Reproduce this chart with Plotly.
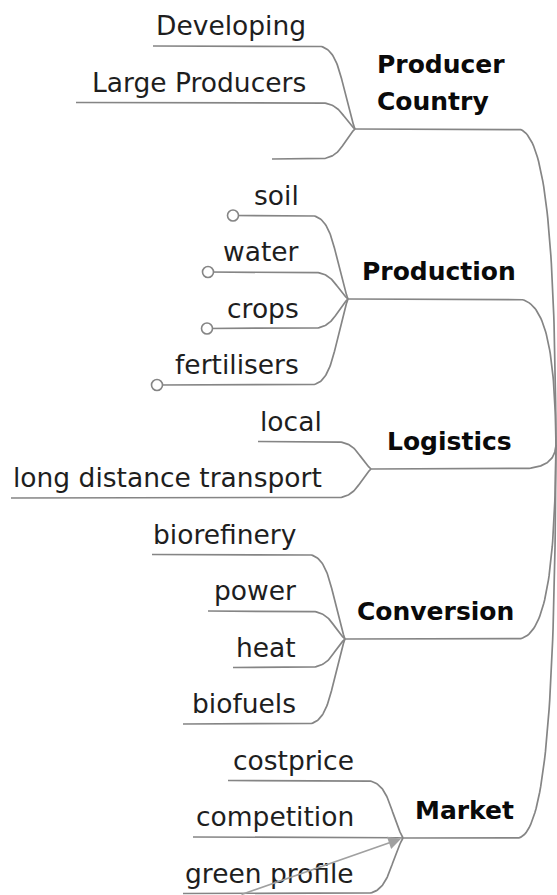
import numpy as np
import plotly.graph_objects as go

# ---- data (mind map content) ----
branch_labels = [["Producer", "Country"], ["Production"], ["Logistics"], ["Conversion"], ["Market"]]
child_labels = [
    ["Developing", "Large Producers", ""],
    ["soil", "water", "crops", "fertilisers"],
    ["local", "long distance transport"],
    ["biorefinery", "power", "heat", "biofuels"],
    ["costprice", "competition", "green profile"],
]
child_has_circle = [False, True, False, False, False]

# ---- layout (pixel-like coordinates) ----
W, H = 557, 895
hub_x = [355, 348, 371, 345, 403]
hub_y = [129, 299, 469, 639, 838]
hub_text_x = [375, 360, 385, 355, 413]
child_start_x = [
    [153, 76, 272],
    [233, 208, 207, 157],
    [258, 11],
    [152, 208, 233, 183],
    [228, 193, 183],
]
row0, row_step = 46, 56.5
root = (556, 445)
trunk_turn = 517
LINE = "#858585"
FONT = "DejaVu Sans"


def cubic(p0, p1, p2, p3, n=50):
    t = np.linspace(0, 1, n)[:, None]
    p0, p1, p2, p3 = map(np.array, (p0, p1, p2, p3))
    return (1 - t) ** 3 * p0 + 3 * (1 - t) ** 2 * t * p1 + 3 * (1 - t) * t ** 2 * p2 + t ** 3 * p3


fig = go.Figure()
annotations = []
row = 0
for b, kids in enumerate(child_labels):
    hx, hy = hub_x[b], hub_y[b]
    # trunk connection
    seg = cubic((trunk_turn, hy), (549, hy), (555, hy + (root[1] - hy) * 0.45), root)
    xs = np.concatenate([[hx], seg[:, 0]])
    ys = np.concatenate([[hy], seg[:, 1]])
    fig.add_trace(go.Scatter(x=xs, y=ys, mode="lines", line=dict(color=LINE, width=1.7),
                             hoverinfo="skip", showlegend=False))
    for k, lab in enumerate(kids):
        cy = row0 + row_step * row
        row += 1
        x0 = child_start_x[b][k]
        turn = hx - 38
        seg = cubic((turn, cy), (hx - 13, cy), (hx - 14, hy + (cy - hy) * 0.45), (hx, hy))
        xs = np.concatenate([[x0], seg[:, 0]])
        ys = np.concatenate([[cy], seg[:, 1]])
        fig.add_trace(go.Scatter(x=xs, y=ys, mode="lines", line=dict(color=LINE, width=1.7),
                                 hoverinfo="skip", showlegend=False))
        if child_has_circle[b]:
            fig.add_trace(go.Scatter(x=[x0], y=[cy], mode="markers",
                                     marker=dict(size=11, color="white", line=dict(color=LINE, width=1.6)),
                                     hoverinfo="skip", showlegend=False))
        if lab:
            annotations.append(dict(x=hx - 47, y=cy - 20.5, text=lab, showarrow=False,
                                    xanchor="right", yanchor="middle",
                                    font=dict(family=FONT, size=26.5, color="#1e1e1e")))
    lines = branch_labels[b]
    for i, t in enumerate(lines):
        cy = hy - 28 - 37 * (len(lines) - 1 - i)
        annotations.append(dict(x=hub_text_x[b], y=cy, text="<b>%s</b>" % t, showarrow=False,
                                xanchor="left", yanchor="middle",
                                font=dict(family=FONT, size=25, color="#0a0a0a")))

# arrow to Market
annotations.append(dict(x=hub_x[4], y=hub_y[4], ax=240, ay=H, axref="x", ayref="y", xref="x", yref="y",
                        text="", showarrow=True, arrowhead=2, arrowsize=1.6, arrowwidth=1.6,
                        arrowcolor="#a0a0a0", standoff=2))

fig.update_layout(
    width=W, height=H, margin=dict(l=0, r=0, t=0, b=0),
    paper_bgcolor="white", plot_bgcolor="white",
    xaxis=dict(range=[0, W], visible=False, fixedrange=True),
    yaxis=dict(range=[H, 0], visible=False, fixedrange=True),
    annotations=annotations, showlegend=False,
)
fig.write_html("out.html", config={"displayModeBar": False},
               post_script="document.body.style.margin='0';")
